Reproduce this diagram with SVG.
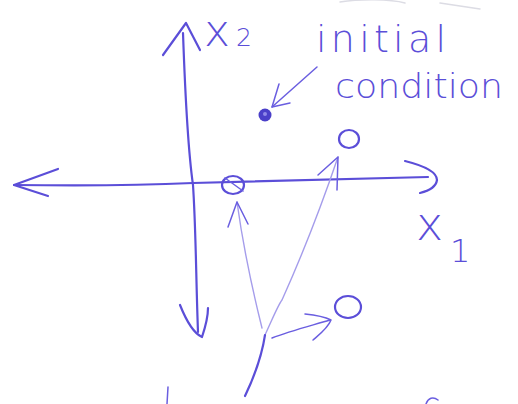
<svg xmlns="http://www.w3.org/2000/svg" width="518" height="404" viewBox="0 0 518 404">
<style>
.ink{fill:none;stroke:#5b4ed8;stroke-width:2.2;stroke-linecap:round;stroke-linejoin:round}
.thin{fill:none;stroke:#6a5ee0;stroke-width:1.5;stroke-linecap:round;stroke-linejoin:round}
.light{fill:none;stroke:#a59deb;stroke-width:1.4;stroke-linecap:round;stroke-linejoin:round}
.faint{fill:none;stroke:#dcdce4;stroke-width:1.5;stroke-linecap:round}
.txt{font-family:"DejaVu Sans","Liberation Sans",sans-serif;fill:#5b4ed8;font-weight:300}
</style>
<rect width="518" height="404" fill="#ffffff"/>
<g id="connectors">
  <path class="ink" d="M183,33 C185,90 188,150 193,185 C196,230 196,280 198,332"/>
  <path class="ink" d="M163,55 L186,23 L200,50"/>
  <path class="ink" d="M180,305 C186,320 193,333 202,337 C206,325 208,315 208,308"/>
  <path class="ink" d="M14,185 C80,186 150,185 193,183 C300,180 380,178 428,177"/>
  <path class="ink" d="M58,169 L14,185 L48,196"/>
  <path class="ink" d="M405,161 C425,166 437,172 437,180 C436,187 428,191 420,193"/>
  <path class="thin" d="M317,67 L272,107"/>
  <path class="thin" d="M279,84 L272,107 L290,103"/>
  <path class="light" d="M262,328 C255,300 245,260 237,202"/>
  <path class="thin" d="M228,227 L237,202 L248,224"/>
  <path class="light" d="M265,335 C272,320 278,305 282,300 C300,260 320,210 338,157"/>
  <path class="thin" d="M318,175 L338,157 L337,190"/>
  <path class="ink" d="M265,335 C262,355 255,375 245,396"/>
  <path class="thin" d="M272,338 C290,331 310,326 330,320"/>
  <path class="thin" d="M305,314 C315,315 325,317 331,320 C328,328 320,334 313,340"/>
  <path class="thin" d="M168,387 L167,404"/>
  <path class="thin" d="M426,404 C428,398 433,396 438,400"/>
  <path class="faint" d="M340,2 C360,-1 390,-1 405,3"/>
  <path class="faint" d="M440,3 L480,9"/>
</g>
<g id="initial-condition">
  <circle cx="265" cy="115" r="6.5" fill="#4a3fc9"/>
  <circle cx="265" cy="114" r="2" fill="#8f88e8"/>
</g>
<g id="eq-origin">
  <ellipse class="ink" cx="233" cy="185" rx="11" ry="9"/>
  <path class="thin" d="M225,178 L243,191"/>
</g>
<g id="eq-upper">
  <ellipse class="ink" cx="349" cy="139" rx="10" ry="9"/>
</g>
<g id="eq-lower">
  <ellipse class="ink" cx="348" cy="307" rx="13" ry="11"/>
</g>
<g id="label-x2">
  <text class="txt" x="204" y="46" font-size="44">x</text>
  <text class="txt" x="236" y="46" font-size="25">2</text>
</g>
<g id="label-x1">
  <text class="txt" x="416" y="240" font-size="46">x</text>
  <text class="txt" x="450" y="262" font-size="32">1</text>
</g>
<g id="label-initial">
  <text class="txt" x="316" y="52" font-size="38" textLength="130" lengthAdjust="spacing">initial</text>
  <text class="txt" x="335" y="98" font-size="34" textLength="168" lengthAdjust="spacingAndGlyphs">condition</text>
</g>
</svg>
